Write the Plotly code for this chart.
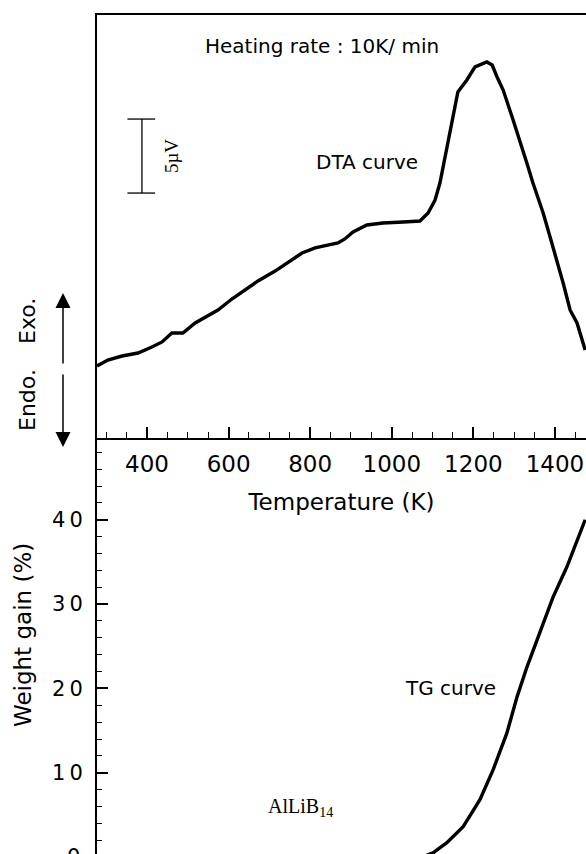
import plotly.graph_objects as go

# ---------------- data ----------------
# DTA curve: temperature (K) and signal (µV, arbitrary zero)
dta_temp = [277.5, 304, 339, 378, 412, 437, 461, 488, 518, 550, 574, 608, 640, 672,
            714, 746, 780, 812, 844, 868, 885, 905, 939, 978, 1028, 1069, 1089, 1106,
            1118, 1130, 1143, 1155, 1162, 1184, 1204, 1233, 1246, 1258, 1273, 1295,
            1314, 1331, 1346, 1371, 1388, 1405, 1420, 1437, 1454, 1474]
dta_signal = [4.86, 5.27, 5.54, 5.74, 6.15, 6.49, 7.09, 7.09, 7.77, 8.31, 8.65, 9.39,
              10.0, 10.61, 11.28, 11.89, 12.5, 12.84, 13.04, 13.18, 13.45, 13.92, 14.39,
              14.53, 14.59, 14.66, 15.2, 16.08, 17.23, 18.99, 20.81, 22.36, 23.38, 24.19,
              25.07, 25.41, 25.2, 24.39, 23.51, 21.69, 20.14, 18.58, 17.23, 15.2, 13.58,
              12.03, 10.47, 8.65, 7.77, 5.95]

# TG curve: temperature (K) and weight gain (%)
tg_temp = [280, 600, 900, 1060, 1080, 1101, 1135, 1175, 1216, 1248, 1282, 1307, 1331,
           1363, 1395, 1429, 1474]
tg_gain = [0.0, 0.0, 0.0, 0.0, 0.1, 0.5, 1.7, 3.6, 6.8, 10.3, 14.7, 19.0, 22.5, 26.6,
           30.8, 34.4, 40.0]

# tick labels
x_tickvals = [400, 600, 800, 1000, 1200, 1400]
x_ticktext = ["400", "600", "800", "1000", "1200", "1400"]
y_tickvals = [10, 20, 30, 40]
y_ticktext = ["1\u20090", "2\u20090", "3\u20090", "4\u20090"]

scale_bar_uv = 5  # µV

# ---------------- layout geometry ----------------
W, H = 586, 854
x_left_px = 97
top_px, split_px = 15, 438
x_range = [277.5, 1476]
dta_range = [0, 28.58]
tg_range = [0.36, 49.7]

x_dom = [x_left_px / W, 1.0]
top_dom = [1 - split_px / H, 1 - top_px / H]
bot_dom = [0.0, 1 - split_px / H]

FONT = "DejaVu Sans"
SERIF = "Liberation Serif"

fig = go.Figure()

fig.add_trace(go.Scatter(x=dta_temp, y=dta_signal, mode="lines",
                         line=dict(color="black", width=3.4),
                         xaxis="x", yaxis="y", showlegend=False, hoverinfo="skip"))
fig.add_trace(go.Scatter(x=tg_temp, y=tg_gain, mode="lines",
                         line=dict(color="black", width=3.4),
                         xaxis="x2", yaxis="y2", showlegend=False, hoverinfo="skip"))

# 5 µV scale bar (drawn in the DTA axes)
bar_x, bar_x0, bar_x1 = 387.7, 352, 420
bar_top = 21.55
bar_bot = bar_top - scale_bar_uv
fig.add_trace(go.Scatter(
    x=[bar_x0, bar_x1, None, bar_x, bar_x, None, bar_x0, bar_x1],
    y=[bar_top, bar_top, None, bar_top, bar_bot, None, bar_bot, bar_bot],
    mode="lines", line=dict(color="black", width=1.3),
    xaxis="x", yaxis="y", showlegend=False, hoverinfo="skip"))

axis_common = dict(showgrid=False, zeroline=False, automargin=False,
                   linecolor="black", linewidth=2, tickcolor="black")

fig.update_layout(
    width=W, height=H,
    margin=dict(l=0, r=0, t=0, b=0, pad=0),
    template="none",
    paper_bgcolor="white", plot_bgcolor="white",
    font=dict(family=FONT, color="black", size=20),
    showlegend=False,
    xaxis=dict(**axis_common, domain=x_dom, range=x_range, anchor="y",
               showline=True, mirror=True,
               ticks="inside", ticklen=11, tickwidth=1.6,
               tickmode="array", tickvals=x_tickvals, ticktext=x_ticktext,
               tickfont=dict(size=23), ticklabelstandoff=4,
               minor=dict(ticks="inside", ticklen=6, tickwidth=1.4, dtick=50, tick0=0,
                          tickcolor="black", showgrid=False),
               title=dict(text="Temperature (K)", font=dict(size=23), standoff=18)),
    yaxis=dict(**axis_common, domain=top_dom, range=dta_range, anchor="x",
               showline=True, mirror=False, ticks="", showticklabels=False),
    xaxis2=dict(**axis_common, domain=x_dom, range=x_range, anchor="y2",
                matches="x", visible=False),
    yaxis2=dict(**axis_common, domain=bot_dom, range=tg_range, anchor="x2",
                showline=True, mirror=False,
                ticks="inside", ticklen=11, tickwidth=1.6,
                tickmode="array", tickvals=y_tickvals, ticktext=y_ticktext,
                tickfont=dict(size=21), ticklabelstandoff=8,
                minor=dict(ticks="inside", ticklen=5, tickwidth=1.4, dtick=2, tick0=0,
                           tickcolor="black", showgrid=False)),
)

def px_x(px):
    return px / W

def px_y(py):
    return 1 - py / H

ann = []
# texts inside the DTA panel (data coordinates)
ann.append(dict(text="Heating rate : 10K/ min", x=829, y=26.49, xref="x", yref="y",
                showarrow=False, font=dict(size=20)))
ann.append(dict(text="DTA curve", x=939, y=18.65, xref="x", yref="y",
                showarrow=False, font=dict(size=20)))
ann.append(dict(text="5\u00b5V", x=459, y=19.05, xref="x", yref="y", textangle=-90,
                showarrow=False, font=dict(size=19, family=SERIF)))
# texts inside the TG panel
ann.append(dict(text="TG curve", x=1145, y=20.05, xref="x2", yref="y2",
                showarrow=False, font=dict(size=20)))
ann.append(dict(text="AlLiB<sub>14</sub>", x=777, y=5.9, xref="x2", yref="y2",
                showarrow=False, font=dict(size=20, family=SERIF)))
# partially visible "0" tick label at the bottom edge (position from the y2 scale)
zero_paper = bot_dom[0] + (0 - tg_range[0]) / (tg_range[1] - tg_range[0]) * (bot_dom[1] - bot_dom[0])
ann.append(dict(text="0", x=px_x(x_left_px - 15), y=zero_paper, xref="paper", yref="paper",
                xanchor="right", yanchor="middle", showarrow=False, font=dict(size=21)))
# y title of TG panel
ann.append(dict(text="Weight gain (%)", x=px_x(23), y=px_y(635), xref="paper", yref="paper",
                xanchor="center", yanchor="middle",
                textangle=-90, showarrow=False, font=dict(size=23)))
# Endo / Exo labels
ann.append(dict(text="Exo.", x=px_x(27), y=px_y(321), xref="paper", yref="paper",
                xanchor="center", yanchor="middle",
                textangle=-90, showarrow=False, font=dict(size=22)))
ann.append(dict(text="Endo.", x=px_x(27), y=px_y(400), xref="paper", yref="paper",
                xanchor="center", yanchor="middle",
                textangle=-90, showarrow=False, font=dict(size=22)))
# arrows
ann.append(dict(text="", x=px_x(63), y=px_y(293), xref="paper", yref="paper",
                ax=0, ay=72, axref="pixel", ayref="pixel", showarrow=True,
                arrowhead=2, arrowsize=2, arrowwidth=1.5, arrowcolor="black"))
ann.append(dict(text="", x=px_x(63), y=px_y(447), xref="paper", yref="paper",
                ax=0, ay=-74, axref="pixel", ayref="pixel", showarrow=True,
                arrowhead=2, arrowsize=2, arrowwidth=1.5, arrowcolor="black"))
fig.update_layout(annotations=ann)

fig.write_html("out.html",
               config={"displayModeBar": False},
               post_script="document.body.style.margin='0px';"
                           "document.body.style.overflow='hidden';")
